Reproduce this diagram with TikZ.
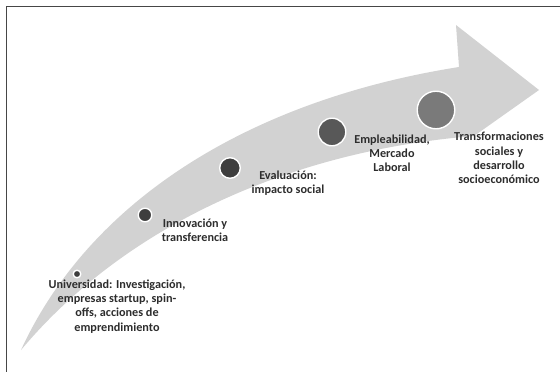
\documentclass[tikz,border=0pt]{standalone}
\usepackage{fontspec}
\setmainfont{Carlito}
\definecolor{band}{RGB}{210,210,210}
\definecolor{frame}{RGB}{70,70,70}
\definecolor{txt}{RGB}{45,45,45}
\definecolor{dotA}{RGB}{62,62,62}
\definecolor{dotB}{RGB}{88,88,88}
\definecolor{dotC}{RGB}{122,122,122}
\begin{document}
\begin{tikzpicture}[x=1pt, y=-1pt, line join=round, line cap=round,
  dot/.style={circle, draw=white, line width=1.4pt, inner sep=0pt, minimum size=#1},
  lbl/.style={align=center, text=txt, inner sep=0pt, font=\fontsize{12.2}{14.2}\selectfont\bfseries}]
 \useasboundingbox (0,0) rectangle (560,372);
 \fill[white] (0,0) rectangle (560,372);
 \draw[frame, line width=1.2pt] (6.5,372)--(6.5,6.5)--(560,6.5);
 % curved arrow
 \fill[band] (21,350) .. controls (90,200) and (250,100) .. (459,67) -- (456,25) -- (539,90) -- (474,136)
   .. controls (300,150) and (130,220) .. (21,350) -- cycle;
 % stages
 \node[dot=7.6pt, fill=dotA] (c1) at (77,274) {};
 \node[dot=13.6pt, fill=dotA] (c2) at (145,215) {};
 \node[dot=20.6pt, fill=dotA] (c3) at (230,168) {};
 \node[dot=27.6pt, fill=dotB] (c4) at (332,132) {};
 \node[dot=37.6pt, fill=dotC] (c5) at (436,110) {};
 \node[lbl] (t1) at (117,306.5) {Universidad: Investigación,\\empresas startup, spin-\\offs, acciones de\\emprendimiento};
 \node[lbl] (t2) at (195,230) {Innovación y\\transferencia};
 \node[lbl] (t3) at (288,183) {Evaluación:\\impacto social};
 \node[lbl] (t4) at (392,153.5) {Empleabilidad,\\Mercado\\Laboral};
 \node[lbl] (t5) at (499,158) {Transformaciones\\sociales y\\desarrollo\\socioeconómico};
\end{tikzpicture}
\end{document}
